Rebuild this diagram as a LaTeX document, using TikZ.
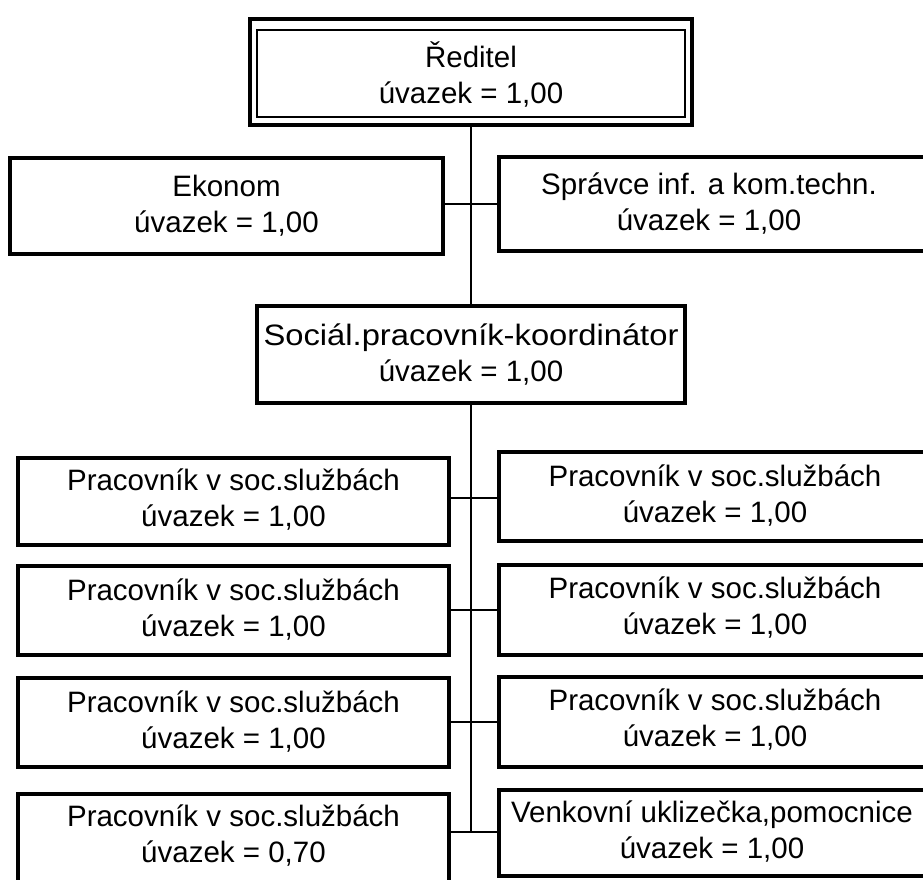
\documentclass[tikz,border=0pt]{standalone}
\usepackage{fontspec}
\setmainfont{Liberation Sans}
\begin{document}
\begin{tikzpicture}[x=1pt,y=-1pt,
  box/.style={draw=black,line width=4.5pt,inner sep=0pt,fill=white},
  thinbox/.style={draw=black,line width=1.5pt,inner sep=0pt},
  txt/.style={align=center,inner sep=0pt,font=\fontsize{29.5}{36}\selectfont},
  link/.style={draw=black,line width=1.6pt}]
\clip (0,0) rectangle (923,880);
\fill[white] (0,0) rectangle (923,880);

% director: thick outer frame with a thin inner frame
\node[box,minimum width=442pt,minimum height=106pt] (red) at (471,72) {};
\node[thinbox,minimum width=428pt,minimum height=87pt] (redin) at (471,73.5) {};
\node[txt] (redt) at (471,74) {Ředitel\\úvazek = 1,00};

% staff directly under the director
\node[box,minimum width=433pt,minimum height=96pt] (eko) at (226.5,206) {};
\node[txt] (ekot) at (226.5,206) {Ekonom\\úvazek = 1,00};
\node[box,minimum width=441pt,minimum height=94pt] (spr) at (719.5,204) {};
\node[txt] (sprt) at (709,204) {Správce inf. a kom.techn.\\úvazek = 1,00};

% coordinator
\node[box,minimum width=428pt,minimum height=97pt] (soc) at (471,354.5) {};
\node[txt] (soct) at (471,355) {\scalebox{1.11}[1]{Sociál.pracovník-koordinátor}\\úvazek = 1,00};

% left column
\node[box,minimum width=431pt,minimum height=87pt] (l1) at (233.5,501.5) {};
\node[box,minimum width=431pt,minimum height=89pt] (l2) at (233.5,610.5) {};
\node[box,minimum width=431pt,minimum height=89pt] (l3) at (233.5,722.5) {};
\node[box,minimum width=431pt,minimum height=90pt] (l4) at (233.5,839) {};
\node[txt] (l1t) at (233.5,500) {Pracovník v soc.službách\\úvazek = 1,00};
\node[txt] (l2t) at (233.5,610) {Pracovník v soc.službách\\úvazek = 1,00};
\node[txt] (l3t) at (233.5,722) {Pracovník v soc.službách\\úvazek = 1,00};
\node[txt] (l4t) at (233.5,836) {Pracovník v soc.službách\\úvazek = 0,70};

% right column
\node[box,minimum width=441pt,minimum height=89pt] (r1) at (719.5,496.5) {};
\node[box,minimum width=441pt,minimum height=90pt] (r2) at (719.5,610) {};
\node[box,minimum width=441pt,minimum height=90pt] (r3) at (719.5,722) {};
\node[box,minimum width=441pt,minimum height=86pt] (r4) at (719.5,833) {};
\node[txt] (r1t) at (715,496) {Pracovník v soc.službách\\úvazek = 1,00};
\node[txt] (r2t) at (715,608) {Pracovník v soc.službách\\úvazek = 1,00};
\node[txt] (r3t) at (715,720) {Pracovník v soc.službách\\úvazek = 1,00};
\node[txt] (r4t) at (712,832) {Venkovní uklizečka,pomocnice\\úvazek = 1,00};

% spine and branches
\coordinate (h0) at (471,204);
\coordinate (h1) at (471,498);
\coordinate (h2) at (471,610);
\coordinate (h3) at (471,722);
\coordinate (h4) at (471,832);
\draw[link] (red.south) -- (soc.north);
\draw[link] (soc.south) -- (h4);
\draw[link] (eko.east |- h0) -- (spr.west |- h0);
\draw[link] (l1.east |- h1) -- (r1.west |- h1);
\draw[link] (l2.east |- h2) -- (r2.west |- h2);
\draw[link] (l3.east |- h3) -- (r3.west |- h3);
\draw[link] (l4.east |- h4) -- (r4.west |- h4);
\end{tikzpicture}
\end{document}
